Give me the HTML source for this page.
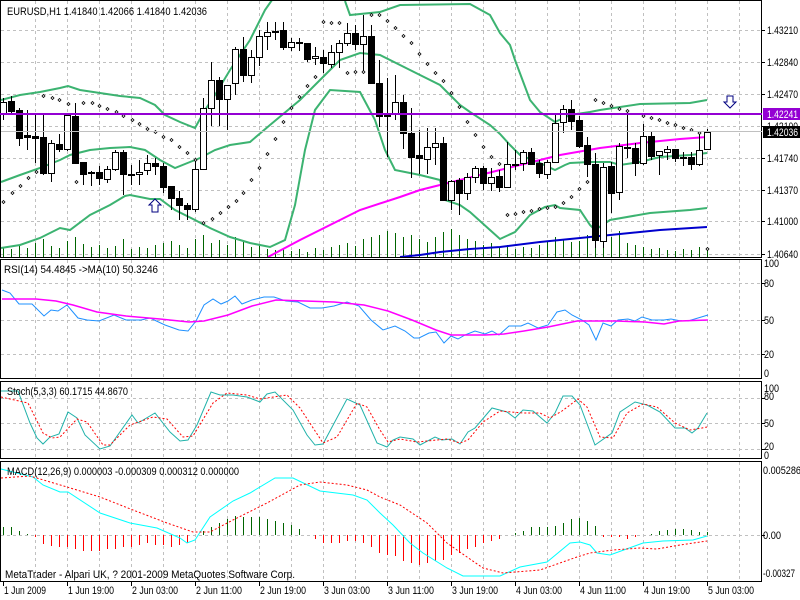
<!DOCTYPE html>
<html><head><meta charset="utf-8"><style>
html,body{margin:0;padding:0;background:#fff}
svg{display:block}
text{font-family:"Liberation Sans",sans-serif;font-size:11px;fill:#000}
</style></head><body>
<svg id="s" width="800" height="600" xmlns="http://www.w3.org/2000/svg">
<rect width="800" height="600" fill="#fff"/>
<g id="grid"></g>
<g id="vol"></g>
<g id="ind"></g>
<g id="cnd"></g>
<g id="dots"></g>
<rect x="0.5" y="0.5" width="761" height="257" fill="none" stroke="#000"/>
<rect x="0.5" y="259.5" width="761" height="119" fill="none" stroke="#000"/>
<rect x="0.5" y="381.5" width="761" height="77" fill="none" stroke="#000"/>
<rect x="0.5" y="461.5" width="761" height="120" fill="none" stroke="#000"/>
<line x1="1" y1="131.5" x2="762" y2="131.5" stroke="#c0c0c0"/>
<rect x="0" y="113" width="762" height="2" fill="#9400d3"/>
<path d="M155,199 L149,205 L152,205 L152,212 L158,212 L158,205 L161,205 Z" fill="#fff" stroke="#000080"/>
<path d="M730,108 L724,102 L727,102 L727,96 L733,96 L733,102 L736,102 Z" fill="#fff" stroke="#000080"/>
<text x="7" y="15" textLength="200" lengthAdjust="spacingAndGlyphs">EURUSD,H1  1.41840 1.42066 1.41840 1.42036</text>
<text x="4" y="273" textLength="154" lengthAdjust="spacingAndGlyphs">RSI(14) 54.4845  -&gt;MA(10) 50.3246</text>
<text x="7" y="395" textLength="121" lengthAdjust="spacingAndGlyphs">Stoch(5,3,3) 60.1715 44.8670</text>
<text x="7" y="475" textLength="232" lengthAdjust="spacingAndGlyphs">MACD(12,26,9) 0.000003 -0.000309 0.000312 0.000000</text>
<text x="5" y="578" textLength="290" lengthAdjust="spacingAndGlyphs">MetaTrader - Alpari UK, ? 2001-2009 MetaQuotes Software Corp.</text>
<g id="axis"></g>
<rect x="763" y="108" width="37" height="12" fill="#9400d3"/>
<text x="767" y="118" textLength="31" lengthAdjust="spacingAndGlyphs" style="fill:#fff">1.42241</text>
<rect x="763" y="126" width="37" height="12" fill="#000"/>
<text x="767" y="136" textLength="31" lengthAdjust="spacingAndGlyphs" style="fill:#fff">1.42036</text>
<g id="time"></g>
<g id="ticks"></g>
</svg>
<script>
var NS="http://www.w3.org/2000/svg";
function el(p,t,a){var e=document.createElementNS(NS,t);for(var k in a)e.setAttribute(k,a[k]);document.getElementById(p).appendChild(e);return e;}
function pl(p,pts,col,w,dash){var s=pts.map(function(q){return q[0]+","+q[1]}).join(" ");var a={points:s,fill:"none",stroke:col,"stroke-width":w||1};if(dash)a["stroke-dasharray"]=dash;el(p,"polyline",a);}
function tx(p,x,y,s,len){var e=el(p,"text",{x:x,y:y,textLength:len,lengthAdjust:"spacingAndGlyphs"});e.textContent=s;}
var AX=[[34,"1.43210",31],[66,"1.42840",31],[98,"1.42470",31],[130,"1.42100",31],[162,"1.41740",31],[194,"1.41370",31],[225,"1.41000",31],[258,"1.40640",31],[267,"100",15],[287,"80",10],[324,"50",10],[358,"20",10],[377,"0",5],[392,"100",15],[400,"80",10],[427,"50",10],[450,"20",10],[459,"0",5],[474,"0.005286",38],[539,"0.00",18],[577,"-0.00327",32]];
AX.forEach(function(a){tx("axis",a[1].length>4&&a[1][0]!="1"||a[1]=="0.00"?763:(a[1].length<=3?764:767),a[0],a[1],a[2]);});
var TL=["1 Jun 2009","1 Jun 19:00","2 Jun 03:00","2 Jun 11:00","2 Jun 19:00","3 Jun 03:00","3 Jun 11:00","3 Jun 19:00","4 Jun 03:00","4 Jun 11:00","4 Jun 19:00","5 Jun 03:00"];
TL.forEach(function(s,i){tx("time",4+64*i,594,s,i==0?42:46);});
var gy=[30,62,94,126,158,190,221,254,283,320,354,398,423,449,535];
gy.forEach(function(y){el("grid","line",{x1:1,y1:y+.5,x2:762,y2:y+.5,stroke:"#c0c0c0","stroke-dasharray":"3,3"});});
for(var x=35;x<762;x+=32){[[1,257],[260,378],[382,458],[462,581]].forEach(function(r){el("grid","line",{x1:x+.5,y1:r[0],x2:x+.5,y2:r[1],stroke:"#c0c0c0","stroke-dasharray":"3,3"});});}
for(var i=0;i<12;i++){var t=3+64*i;el("ticks","line",{x1:t+.5,y1:582,x2:t+.5,y2:586,stroke:"#000"});}
gy.forEach(function(y){el("ticks","line",{x1:762,y1:y+.5,x2:765,y2:y+.5,stroke:"#000"});});
var C=[[113,102,98,120],[101,111,96,113],[110,138,108,146],[135,137,110,150],[136,138,115,163],[137,173,115,175],[173,143,140,182],[144,149,134,152],[149,115,113,151],[116,163,103,163],[162,174,162,185],[172,173,171,186],[172,178,166,185],[179,169,166,183],[169,152,150,171],[152,174,150,195],[174,175,165,185],[174,172,160,185],[170,163,155,175],[163,166,158,175],[166,187,163,193],[186,198,186,210],[198,205,191,220],[205,209,203,220],[209,169,160,212],[169,108,98,170],[108,80,62,126],[80,99,77,126],[99,85,85,130],[83,49,47,95],[49,75,37,82],[75,57,50,83],[57,36,30,66],[36,32,22,50],[32,31,22,40],[30,47,22,50],[47,42,38,51],[42,43,38,51],[43,59,43,62],[58,56,47,65],[57,63,50,73],[64,52,45,68],[52,43,40,68],[43,33,23,46],[33,44,25,50],[44,36,15,72],[36,83,25,83],[83,116,60,127],[114,116,78,157],[114,102,75,120],[102,133,95,149],[133,157,108,178],[155,158,130,174],[159,147,128,174],[147,143,128,165],[143,200,137,200],[200,181,180,210],[180,193,178,215],[193,177,173,200],[177,168,166,183],[168,183,166,190],[183,177,168,191],[176,187,170,192],[187,164,142,187],[165,164,150,170],[163,152,150,171],[152,164,148,165],[163,173,160,178],[174,162,160,179],[162,123,115,163],[122,109,105,133],[109,121,100,130],[120,146,116,148],[145,164,137,177],[164,240,153,248],[241,167,163,248],[166,193,162,213],[192,146,143,200],[147,148,110,158],[148,163,143,176],[163,136,124,165],[136,156,132,160],[155,151,151,175],[152,149,146,160],[149,158,149,162],[157,158,152,166],[157,164,152,170],[164,150,132,166],[149,132,129,150]];
var V=[10,8,12,9,14,18,11,9,16,20,13,10,12,9,11,18,8,10,9,12,14,16,12,9,18,22,14,17,12,20,15,10,12,8,7,9,6,8,5,9,7,10,12,14,11,18,20,22,26,24,20,22,18,15,20,25,28,22,18,16,12,14,10,12,8,10,9,12,16,20,18,15,16,22,28,24,20,26,14,12,10,8,9,7,6,8,7,10,9];
for(var i=0;i<C.length;i++){var x=3+8*i,c=C[i];
 el("vol","line",{x1:x+.5,y1:257,x2:x+.5,y2:257-V[i],stroke:"#006400"});
 el("cnd","line",{x1:x+.5,y1:c[2],x2:x+.5,y2:c[3],stroke:"#000"});
 var t=Math.min(c[0],c[1]),b=Math.max(c[0],c[1]);
 if(b-t<1){el("cnd","line",{x1:x-3,y1:t+.5,x2:x+4,y2:t+.5,stroke:"#000"});}
 else el("cnd","rect",{x:x-2.5,y:t+.5,width:6,height:b-t,fill:c[1]<c[0]?"#fff":"#000",stroke:"#000"});
}
var G="#3cb371";
pl("ind",[[1,100],[20,95],[40,92],[60,88],[68,86],[80,90],[100,93],[120,96],[140,98],[155,105],[165,115],[180,122],[195,128],[205,110],[215,95],[230,70],[250,40],[265,10],[272,0]],G,2);
pl("ind",[[345,1],[350,15],[380,12],[400,5],[470,4],[490,15],[500,33],[510,45],[515,60],[530,100],[540,112],[555,122],[570,115],[590,112],[600,110],[640,104],[690,103],[707,100]],G,2);
pl("ind",[[1,182],[20,175],[40,168],[60,160],[70,155],[90,150],[110,148],[130,147],[145,150],[160,160],[175,168],[190,162],[200,158],[215,150],[230,145],[250,142],[270,125],[300,100],[320,80],[340,60],[360,53],[380,55],[400,65],[420,75],[440,85],[450,95],[460,105],[470,112],[490,125],[500,134],[510,145],[520,155],[540,163],[555,170],[565,165],[570,163],[590,162],[610,162],[620,165],[640,162],[660,157],[690,155],[707,153]],G,2);
pl("ind",[[1,248],[20,245],[40,238],[60,228],[70,230],[90,215],[110,205],[125,196],[130,195],[150,199],[160,199],[175,210],[195,220],[210,228],[230,237],[250,243],[270,247],[285,240],[295,205],[305,150],[315,110],[330,90],[360,92],[375,120],[385,150],[395,170],[420,175],[440,180],[445,200],[460,205],[470,212],[490,230],[500,239],[515,232],[530,215],[545,207],[555,205],[560,208],[580,210],[590,225],[595,230],[610,220],[650,213],[690,210],[707,208]],G,2);
pl("ind",[[268,257],[300,240],[330,225],[360,210],[400,197],[420,190],[440,185],[460,180],[480,175],[500,170],[540,160],[560,155],[600,148],[640,143],[680,139],[707,137]],"#ff00ff",2);
pl("ind",[[400,257],[420,255],[440,252],[470,249],[500,247],[540,242],[580,238],[620,234],[660,230],[707,227]],"#0000cd",2);
var D=[[3,202],[12,193],[20,186],[28,178],[36,172],[43,96],[52,98],[59,100],[68,104],[76,182],[83,103],[92,103],[99,106],[107,109],[116,112],[123,116],[132,120],[139,124],[147,129],[155,132],[163,137],[171,140],[179,147],[187,153],[195,160],[203,223],[212,219],[220,213],[228,207],[236,201],[243,193],[251,180],[259,168],[267,154],[275,139],[283,122],[291,108],[299,97],[307,86],[315,77],[323,22],[331,23],[339,23],[347,73],[355,72],[363,72],[371,15],[379,15],[387,21],[395,28],[403,36],[411,43],[419,54],[427,64],[435,73],[443,81],[451,93],[459,107],[467,122],[475,135],[483,147],[491,157],[499,164],[507,215],[515,214],[523,212],[531,211],[539,209],[547,208],[555,207],[563,203],[571,197],[579,189],[587,182],[595,100],[603,103],[611,106],[619,109],[627,111],[643,116],[651,118],[659,120],[667,123],[675,125],[683,128],[691,130],[699,133],[707,249]];
D.forEach(function(d){el("dots","path",{d:"M"+(d[0]+.5)+","+(d[1]-1.5)+"l1.5,1.5l-1.5,1.5l-1.5,-1.5z",fill:"#fff",stroke:"#000","stroke-width":.8});});
pl("ind",[[2,290],[10,293],[19,304],[32,304],[44,316],[51,310],[58,311],[67,305],[78,318],[87,320],[99,321],[114,315],[126,320],[141,320],[150,318],[165,325],[179,330],[188,331],[196,321],[204,305],[213,299],[221,304],[228,301],[235,296],[242,304],[252,300],[264,297],[274,297],[286,301],[298,302],[310,308],[322,308],[334,306],[347,302],[359,306],[371,320],[383,330],[395,326],[405,331],[414,338],[419,338],[429,333],[436,332],[444,343],[451,336],[458,339],[465,335],[475,331],[485,334],[492,331],[499,335],[509,326],[521,326],[528,323],[538,328],[548,325],[557,312],[565,310],[572,315],[582,320],[589,325],[596,340],[603,323],[611,326],[618,320],[628,319],[635,321],[642,317],[652,320],[664,320],[671,319],[681,321],[688,321],[698,318],[708,315]],"#1e90ff",1);
pl("ind",[[2,299],[36,299],[56,301],[73,305],[97,312],[126,316],[160,319],[189,322],[204,321],[228,315],[252,306],[276,300],[305,301],[334,302],[364,305],[388,311],[412,320],[436,330],[451,335],[485,335],[504,334],[524,331],[548,327],[577,321],[616,321],[645,322],[664,324],[679,321],[708,320]],"#ff00ff",1.5);
pl("ind",[[1,391],[18,391],[30,423],[37,438],[43,444],[50,437],[59,434],[68,412],[77,418],[85,435],[100,449],[110,446],[132,415],[138,423],[155,413],[170,432],[180,441],[188,440],[197,425],[211,392],[220,395],[233,395],[247,397],[260,402],[267,394],[275,392],[293,410],[307,435],[315,445],[323,444],[347,399],[360,405],[377,443],[387,447],[393,440],[400,437],[413,439],[420,445],[435,437],[442,440],[452,439],[460,444],[468,432],[475,428],[492,408],[507,412],[515,418],[523,410],[533,411],[547,423],[555,413],[563,396],[572,396],[580,405],[595,445],[612,433],[620,412],[635,402],[647,405],[660,412],[675,428],[685,428],[692,433],[698,428],[707,413]],"#20b2aa",1);
pl("ind",[[1,397],[28,403],[43,433],[52,438],[60,437],[77,419],[87,422],[103,445],[110,445],[130,425],[153,417],[167,419],[183,437],[193,436],[213,403],[227,393],[247,395],[260,399],[287,395],[300,408],[323,443],[337,437],[357,403],[367,407],[380,430],[388,442],[400,439],[417,442],[447,439],[460,443],[468,440],[483,422],[500,411],[523,413],[540,413],[550,418],[562,411],[578,399],[587,407],[600,437],[613,438],[627,413],[643,404],[657,407],[675,423],[690,430],[702,428],[707,427]],"#ff0000",1,"2,2");
var H=[8,8,4,1,-2,-9,-11,-12,-12,-14,-16,-16,-16,-14,-14,-12,-12,-10,-8,-10,-10,-12,-10,-8,0,4,8,12,16,19,18,18,18,16,14,12,10,6,0,-4,-8,-8,-8,-6,-6,-8,-12,-18,-20,-21,-26,-28,-30,-28,-26,-25,-20,-18,-14,-12,-8,-6,-4,0,2,4,8,8,8,9,12,16,17,14,9,-2,-2,-2,-4,-2,0,1,4,5,6,6,5,3,3];
for(var i=0;i<H.length;i++){var x=3+8*i;if(H[i]==0)continue;el("ind","line",{x1:x+.5,y1:535,x2:x+.5,y2:535-H[i],stroke:H[i]>0?"#006400":"#ff0000"});}
pl("ind",[[1,469],[33,477],[43,485],[60,492],[68,492],[100,513],[130,523],[157,528],[180,538],[187,543],[195,540],[210,517],[233,501],[250,493],[275,478],[293,478],[320,491],[353,495],[367,500],[380,513],[393,525],[410,543],[423,553],[447,568],[463,576],[480,576],[500,576],[520,567],[547,562],[570,543],[580,542],[590,545],[597,553],[610,555],[643,543],[663,541],[693,540],[707,536]],"#00ffff",1);
pl("ind",[[1,478],[30,476],[67,487],[100,497],[133,510],[167,523],[193,532],[210,532],[233,520],[267,503],[300,485],[320,482],[347,485],[367,490],[380,497],[400,505],[427,523],[447,543],[467,557],[483,568],[503,573],[540,570],[577,557],[590,553],[613,550],[640,548],[657,549],[680,545],[707,541]],"#ff0000",1,"2,2");
</script>
</body></html>
